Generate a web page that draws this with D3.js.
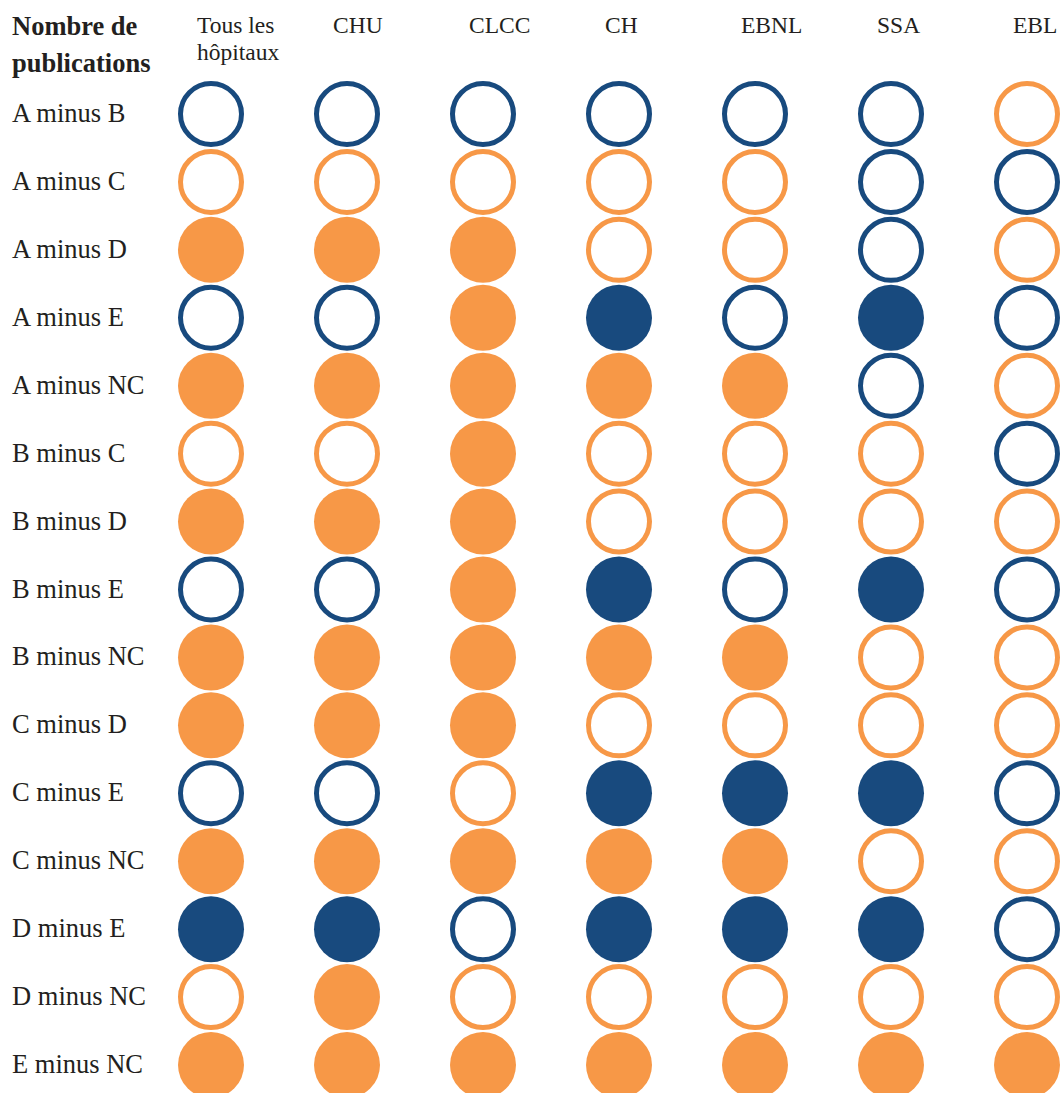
<!DOCTYPE html>
<html lang="fr">
<head>
<meta charset="UTF-8"/>
<title>Nombre de publications</title>
<script src="https://d3js.org/d3.v7.min.js"></script>
<style>
  body { margin: 0; background: #fff; }
  text { font-family: "Liberation Serif", "Times New Roman", serif; fill: #231f20; }
</style>
</head>
<body>
<svg id="chart"></svg>
<script>
// columns (hospital types) and rows (comparisons)
const columns = ["Tous les|hôpitaux", "CHU", "CLCC", "CH", "EBNL", "SSA", "EBL"];
const rows = ["A minus B", "A minus C", "A minus D", "A minus E", "A minus NC",
  "B minus C", "B minus D", "B minus E", "B minus NC", "C minus D",
  "C minus E", "C minus NC", "D minus E", "D minus NC", "E minus NC"];

// b = blue, o = orange; F = filled, h = hollow
const cells = [
  ["bh", "bh", "bh", "bh", "bh", "bh", "oh"],
  ["oh", "oh", "oh", "oh", "oh", "bh", "bh"],
  ["oF", "oF", "oF", "oh", "oh", "bh", "oh"],
  ["bh", "bh", "oF", "bF", "bh", "bF", "bh"],
  ["oF", "oF", "oF", "oF", "oF", "bh", "oh"],
  ["oh", "oh", "oF", "oh", "oh", "oh", "bh"],
  ["oF", "oF", "oF", "oh", "oh", "oh", "oh"],
  ["bh", "bh", "oF", "bF", "bh", "bF", "bh"],
  ["oF", "oF", "oF", "oF", "oF", "oh", "oh"],
  ["oF", "oF", "oF", "oh", "oh", "oh", "oh"],
  ["bh", "bh", "oh", "bF", "bF", "bF", "bh"],
  ["oF", "oF", "oF", "oF", "oF", "oh", "oh"],
  ["bF", "bF", "bh", "bF", "bF", "bF", "bh"],
  ["oh", "oF", "oh", "oh", "oh", "oh", "oh"],
  ["oF", "oF", "oF", "oF", "oF", "oF", "oF"]
];

const width = 1061, height = 1093;
const colors = { b: "#184a7e", o: "#f79847" };
const R = 33, SW = 5;

const svg = d3.select("#chart").attr("width", width).attr("height", height);

const x = d3.scalePoint().domain(columns).range([211, 1027]);
const y = d3.scalePoint().domain(rows).range([114, 1065]);

// title
const title = svg.append("text")
  .attr("x", 12).attr("y", 35)
  .style("font-size", "26.5px").style("font-weight", "bold");
title.append("tspan").attr("x", 12).text("Nombre de");
title.append("tspan").attr("x", 12).attr("dy", 37).text("publications");

// column headers
svg.selectAll("text.col")
  .data(columns)
  .join("text")
  .attr("class", "col")
  .attr("y", 33)
  .style("font-size", "23.5px")
  .each(function(d) {
    const t = d3.select(this);
    d.split("|").forEach((line, i) => {
      t.append("tspan").attr("x", x(d) - 14).attr("dy", i ? 27 : 0).text(line);
    });
  });

// row labels
svg.selectAll("text.row")
  .data(rows)
  .join("text")
  .attr("class", "row")
  .attr("x", 12)
  .attr("y", d => y(d) + 8)
  .style("font-size", "26.5px")
  .text(d => d);

// circles
const flat = [];
cells.forEach((r, i) => r.forEach((c, j) => flat.push({ row: rows[i], col: columns[j], color: c[0], filled: c[1] === "F" })));

svg.selectAll("circle")
  .data(flat)
  .join("circle")
  .attr("cx", d => x(d.col))
  .attr("cy", d => y(d.row))
  .attr("r", d => d.filled ? R : R - SW / 2)
  .attr("fill", d => d.filled ? colors[d.color] : "none")
  .attr("stroke", d => d.filled ? "none" : colors[d.color])
  .attr("stroke-width", SW);
</script>
</body>
</html>
